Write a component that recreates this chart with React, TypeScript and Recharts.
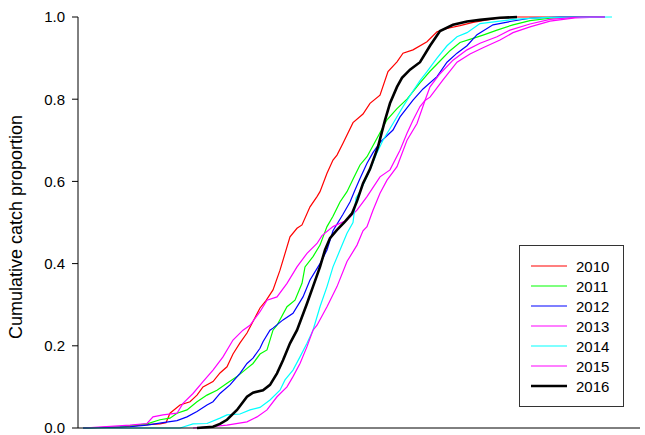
import { LineChart, Line, XAxis, YAxis, Legend } from "recharts";

const years = ["2010", "2011", "2012", "2013", "2014", "2015", "2016"];
const yTicks = [0, 0.2, 0.4, 0.6, 0.8, 1.0];

// [day, cumulative proportion]
const s2010 = [
  [5, 0], [42, 0.002], [68, 0.008], [82, 0.01], [88, 0.013], [92, 0.036], [102, 0.056],
  [112, 0.064], [119, 0.08], [125, 0.1], [135, 0.113], [142, 0.134], [149, 0.149],
  [155, 0.18], [162, 0.207], [169, 0.231], [175, 0.259], [182, 0.292], [188, 0.31],
  [195, 0.336], [202, 0.384], [212, 0.465], [219, 0.486], [224, 0.494], [232, 0.538],
  [239, 0.563], [242, 0.575], [249, 0.62], [255, 0.652], [259, 0.664], [265, 0.693],
  [275, 0.743], [285, 0.764], [292, 0.79], [302, 0.81], [310, 0.867], [319, 0.891],
  [325, 0.912], [335, 0.92], [349, 0.94], [359, 0.964], [369, 0.972], [382, 0.979],
  [395, 0.987], [419, 0.997], [432, 1], [527, 1],
];
const s2011 = [
  [5, 0], [42, 0.003], [69, 0.01], [82, 0.02], [92, 0.024], [99, 0.036], [109, 0.044],
  [119, 0.064], [129, 0.08], [139, 0.092], [149, 0.109], [159, 0.125], [169, 0.145],
  [175, 0.157], [182, 0.18], [189, 0.19], [195, 0.238], [199, 0.25], [209, 0.295],
  [217, 0.311], [224, 0.352], [227, 0.392], [235, 0.417], [242, 0.445], [249, 0.49],
  [255, 0.515], [262, 0.55], [269, 0.575], [275, 0.605], [282, 0.64], [289, 0.66],
  [299, 0.705], [309, 0.75], [319, 0.777], [329, 0.8], [342, 0.84], [352, 0.868],
  [362, 0.893], [372, 0.918], [382, 0.938], [395, 0.948], [405, 0.956], [419, 0.968],
  [435, 0.981], [452, 0.991], [472, 0.997], [502, 1], [527, 1],
];
const s2012 = [
  [5, 0], [52, 0.003], [69, 0.007], [85, 0.013], [99, 0.018], [109, 0.027], [119, 0.04],
  [129, 0.056], [135, 0.064], [142, 0.084], [152, 0.105], [162, 0.133], [169, 0.157],
  [175, 0.17], [182, 0.194], [185, 0.21], [192, 0.238], [195, 0.243], [205, 0.263],
  [215, 0.279], [225, 0.319], [232, 0.36], [242, 0.4], [249, 0.433], [255, 0.48],
  [265, 0.52], [272, 0.55], [277, 0.579], [282, 0.607], [289, 0.644], [295, 0.67],
  [302, 0.695], [315, 0.725], [322, 0.757], [335, 0.798], [345, 0.825], [359, 0.855],
  [369, 0.89], [379, 0.912], [389, 0.93], [399, 0.957], [415, 0.981], [432, 0.989],
  [452, 0.997], [482, 1], [527, 1],
];
const s2013 = [
  [5, 0], [52, 0.007], [69, 0.011], [75, 0.027], [85, 0.032], [99, 0.036], [105, 0.06],
  [115, 0.084], [125, 0.113], [135, 0.141], [145, 0.173], [155, 0.214], [165, 0.238],
  [172, 0.25], [182, 0.283], [189, 0.311], [199, 0.319], [209, 0.352], [219, 0.392],
  [229, 0.425], [239, 0.449], [244, 0.468], [255, 0.49], [269, 0.506], [279, 0.53],
  [289, 0.563], [302, 0.611], [312, 0.628], [322, 0.676], [329, 0.717], [335, 0.749],
  [342, 0.782], [347, 0.797], [352, 0.805], [365, 0.847], [379, 0.89], [392, 0.91],
  [405, 0.925], [422, 0.944], [435, 0.962], [452, 0.976], [472, 0.99], [497, 0.998],
  [527, 1],
];
const s2014 = [
  [5, 0], [102, 0], [115, 0.01], [129, 0.011], [142, 0.024], [149, 0.032], [162, 0.034],
  [172, 0.044], [182, 0.05], [192, 0.068], [202, 0.092], [207, 0.117], [215, 0.141],
  [222, 0.173], [229, 0.206], [235, 0.238], [242, 0.295], [249, 0.344], [255, 0.392],
  [262, 0.433], [269, 0.474], [275, 0.5], [278, 0.56], [282, 0.575], [292, 0.628],
  [299, 0.67], [305, 0.7], [315, 0.741], [325, 0.782], [335, 0.82], [342, 0.845],
  [349, 0.867], [359, 0.9], [369, 0.93], [379, 0.952], [389, 0.962], [402, 0.984],
  [435, 0.994], [469, 0.999], [534, 1],
];
const s2015 = [
  [115, 0], [132, 0.003], [149, 0.007], [169, 0.015], [179, 0.027], [189, 0.044],
  [199, 0.076], [209, 0.1], [215, 0.125], [222, 0.157], [229, 0.198], [235, 0.238],
  [239, 0.25], [249, 0.295], [259, 0.344], [269, 0.405], [279, 0.445], [285, 0.48],
  [289, 0.49], [295, 0.53], [302, 0.571], [309, 0.603], [319, 0.636], [329, 0.7],
  [339, 0.741], [347, 0.797], [352, 0.83], [362, 0.862], [375, 0.895], [389, 0.92],
  [402, 0.936], [419, 0.952], [432, 0.968], [452, 0.983], [472, 0.994], [502, 1], [527, 1],
];
const s2016 = [
  [119, 0], [135, 0.003], [142, 0.01], [149, 0.02], [159, 0.044], [169, 0.076],
  [175, 0.086], [185, 0.092], [192, 0.105], [199, 0.133], [205, 0.165], [212, 0.206],
  [219, 0.238], [229, 0.303], [235, 0.344], [242, 0.392], [247, 0.433], [252, 0.462],
  [259, 0.482], [267, 0.502], [274, 0.522], [279, 0.552], [285, 0.595], [292, 0.63],
  [300, 0.684], [307, 0.749], [312, 0.79], [319, 0.83], [324, 0.852], [332, 0.872],
  [342, 0.89], [352, 0.93], [362, 0.966], [375, 0.981], [389, 0.989], [402, 0.993],
  [422, 0.998], [439, 1],
];

const seriesValues = [s2010, s2011, s2012, s2013, s2014, s2015, s2016];
const lineColors = ["#ff0000", "#00ff00", "#0000ff", "#ff00ff", "#00ffff", "#ff00ff", "#000000"];

const font = "'Liberation Sans', Arial, sans-serif";

function LegendBox() {
  return (
    <div
      style={{
        width: 103,
        height: 160,
        border: "1px solid #333",
        background: "#fff",
        boxSizing: "content-box",
      }}
    >
      <svg width={103} height={160}>
        {years.map((year, i) => {
          const cy = 20 + i * 20;
          return (
            <g key={year}>
              <line
                x1={11}
                x2={47}
                y1={cy}
                y2={cy}
                stroke={lineColors[i]}
                strokeWidth={i === 6 ? 2.6 : 1.2}
              />
              <text x={56} y={cy + 5.5} fontSize={15} fontFamily={font} fill="#000">
                {year}
              </text>
            </g>
          );
        })}
      </svg>
    </div>
  );
}

export default function App() {
  return (
    <div style={{ position: "absolute", left: 0, top: 0 }}>
      <LineChart
        width={645}
        height={435}
        margin={{ top: 17, right: 5, bottom: 0, left: 0 }}
      >
        <XAxis
          dataKey="x"
          type="number"
          domain={[0, 562]}
          tick={false}
          tickLine={false}
          axisLine={{ stroke: "#000", strokeWidth: 1 }}
          height={7}
        />
        <XAxis
          xAxisId="top"
          orientation="top"
          type="number"
          domain={[0, 562]}
          tick={false}
          tickLine={false}
          axisLine={{ stroke: "#000", strokeWidth: 1 }}
          height={0}
        />
        <YAxis
          type="number"
          domain={[0, 1]}
          ticks={yTicks}
          interval={0}
          width={78}
          tickSize={6}
          tickMargin={7}
          tickFormatter={(v: number) => v.toFixed(1)}
          tick={{ fill: "#000", fontSize: 15, fontFamily: font }}
          tickLine={{ stroke: "#000" }}
          axisLine={{ stroke: "#000", strokeWidth: 1 }}
          label={{
            content: () => (
              <text
                x={22}
                y={227}
                transform="rotate(-90 22 227)"
                textAnchor="middle"
                fontSize={18}
                fontFamily={font}
                fill="#000"
              >
                Cumulative catch proportion
              </text>
            ),
          }}
        />
        {seriesValues.map((pts, i) => (
          <Line
            key={years[i]}
            name={years[i]}
            data={pts.map(([x, v]) => ({ x, v }))}
            dataKey="v"
            type="linear"
            stroke={lineColors[i]}
            strokeWidth={i === 6 ? 2.6 : 1.2}
            dot={false}
            activeDot={false}
            isAnimationActive={false}
          />
        ))}
        <Legend
          layout="horizontal"
          verticalAlign="middle"
          align="center"
          content={() => <LegendBox />}
          wrapperStyle={{ position: "absolute", left: 519, top: 245, width: 105, height: 162 }}
        />
      </LineChart>
    </div>
  );
}
